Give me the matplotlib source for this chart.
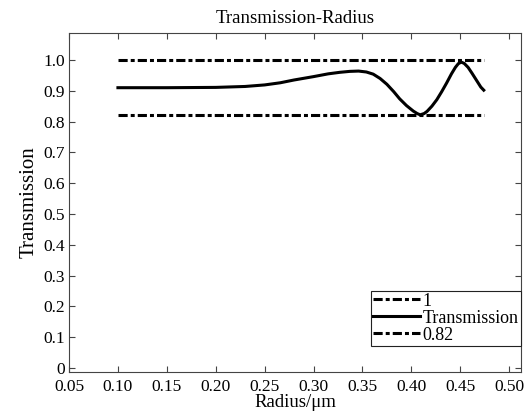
import matplotlib
matplotlib.use("Agg")
import matplotlib.pyplot as plt

plt.rcParams['font.family'] = ['Liberation Serif', 'DejaVu Serif']

# curve
radius = [0.10, 0.15, 0.20, 0.23, 0.25, 0.266, 0.28, 0.30, 0.315, 0.327, 0.337, 0.346,
          0.354, 0.361, 0.368, 0.375, 0.382, 0.388, 0.395, 0.402, 0.406, 0.409, 0.413,
          0.416, 0.421, 0.426, 0.431, 0.436, 0.441, 0.445, 0.448, 0.451, 0.454, 0.458,
          0.462, 0.467, 0.471, 0.474]
transmission = [0.910, 0.910, 0.911, 0.914, 0.919, 0.926, 0.935, 0.946, 0.955, 0.960, 0.963, 0.964,
                0.961, 0.954, 0.940, 0.921, 0.897, 0.874, 0.852, 0.834, 0.826, 0.822, 0.826,
                0.833, 0.850, 0.871, 0.897, 0.925, 0.955, 0.976, 0.988, 0.993, 0.989, 0.976,
                0.957, 0.932, 0.912, 0.902]
ref_x = [0.10, 0.474]
ref_hi = [1.0, 1.0]
ref_lo = [0.82, 0.82]
xticks = [0.05, 0.10, 0.15, 0.20, 0.25, 0.30, 0.35, 0.40, 0.45, 0.50]
yticks = [0, 0.1, 0.2, 0.3, 0.4, 0.5, 0.6, 0.7, 0.8, 0.9, 1.0]

fig = plt.figure(figsize=(5.31, 4.11), dpi=100)
ax = fig.add_axes([0.130, 0.095, 0.851, 0.825])

dashdot = (0, (3.0, 1.0, 1.3, 1.0))
ax.plot(ref_x, ref_hi, color='black', lw=2.2, linestyle=dashdot, label='1')
ax.plot(radius, transmission, color='black', lw=2.2, label='Transmission')
ax.plot(ref_x, ref_lo, color='black', lw=2.2, linestyle=dashdot, label='0.82')

ax.set_xlim(0.05, 0.512)
ax.set_ylim(-0.013, 1.088)
ax.set_xticks(xticks)
ax.set_xticklabels([f"{v:.2f}" for v in xticks])
ax.set_yticks(yticks)
ax.set_yticklabels(['0'] + [f"{v:.1f}" for v in yticks[1:]])
ax.tick_params(direction='in', top=True, right=True, labelsize=12.5, length=4, color='#444444', pad=3)
ax.tick_params(axis='x', pad=5)
for s in ax.spines.values():
    s.set_color('#444444')

ax.set_title('Transmission-Radius', fontsize=13.5, pad=7)
ax.set_xlabel('Radius/μm', fontsize=13.5, labelpad=-1)
ax.set_ylabel('Transmission', fontsize=15, labelpad=3)

leg = ax.legend(loc='lower right', bbox_to_anchor=(1.0, 0.077), fontsize=13,
                frameon=True, fancybox=False, edgecolor='#222222', framealpha=1,
                handlelength=2.6, handletextpad=0.15, borderpad=0.12, labelspacing=0.0,
                borderaxespad=0)
leg.get_frame().set_linewidth(0.8)

fig.savefig('out.png', dpi=100)
